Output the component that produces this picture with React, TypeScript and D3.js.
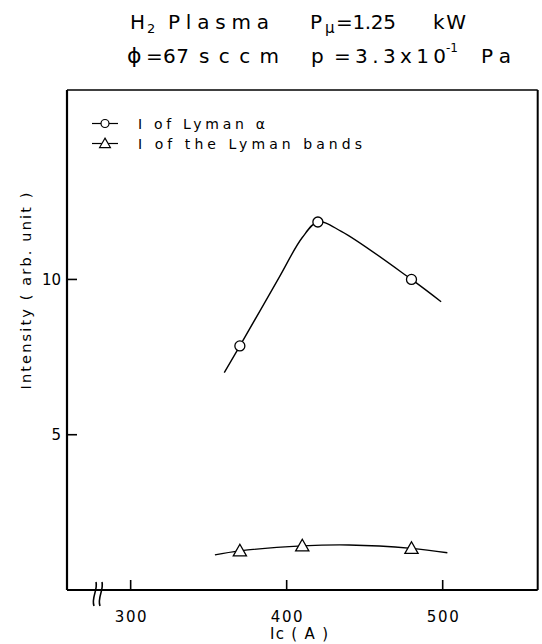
import React from "react";
import * as d3 from "d3";

const xTicks = [300, 400, 500];
const yTicks = [5, 10];

// I of Lyman alpha : measured points
const alphaX = [370, 420, 480];
const alphaY = [7.86, 11.85, 10.0];
// hand-drawn fit curve
const alphaFitX = [360, 370, 395, 410, 420, 435, 480, 499];
const alphaFitY = [7.0, 7.86, 10.05, 11.35, 11.85, 11.55, 10.0, 9.28];

// I of the Lyman bands : measured points
const bandsX = [370, 410, 480];
const bandsY = [1.26, 1.42, 1.34];
const bandsFitX = [354, 370, 410, 440, 480, 503];
const bandsFitY = [1.13, 1.26, 1.42, 1.45, 1.34, 1.2];

const W = 542;
const H = 644;
const L = 67, R = 537.7, T = 90, B = 590;

export default function App() {
  const x = d3.scaleLinear().domain([259.2, 560.9]).range([L, R]);
  const y = d3.scaleLinear().domain([0, 16.1]).range([B, T]);
  const line = d3
    .line<[number, number]>()
    .x((d) => x(d[0]))
    .y((d) => y(d[1]))
    .curve(d3.curveCatmullRom.alpha(0.5));
  const alphaPath = line(alphaFitX.map((v, i) => [v, alphaFitY[i]]) as [number, number][]) || "";
  const bandsPath = line(bandsFitX.map((v, i) => [v, bandsFitY[i]]) as [number, number][]) || "";
  const font = "'DejaVu Sans', Verdana, sans-serif";
  const tri = (cx: number, cy: number, s: number) =>
    `M${cx},${cy - s * 0.6}L${cx + s * 0.6},${cy + s * 0.45}L${cx - s * 0.6},${cy + s * 0.45}Z`;

  return (
    <svg
      width={W}
      height={H}
      style={{ position: "absolute", left: 0, top: 0, background: "#fff" }}
      fontFamily={font}
      fill="#000"
    >
      <rect x={0} y={0} width={W} height={H} fill="#fff" />
      {/* Title */}
      <g fontSize={20}>
        <text x={130} y={29}>H</text>
        <text x={147} y={33} fontSize={13}>2</text>
        <text x={168} y={29} textLength={101} lengthAdjust="spacing">Plasma</text>
        <text x={310} y={29}>P</text>
        <text x={325} y={33} fontSize={15}>μ</text>
        <text x={336} y={29} textLength={60} lengthAdjust="spacing">=1.25</text>
        <text x={433} y={29} textLength={33} lengthAdjust="spacing">kW</text>

        <text x={127} y={63} fontSize={22}>ϕ</text>
        <text x={146} y={63}>=</text>
        <text x={163} y={63} textLength={26} lengthAdjust="spacing">67</text>
        <text x={199} y={63} textLength={80} lengthAdjust="spacing">sccm</text>
        <text x={311} y={63}>p</text>
        <text x={334} y={63} textLength={112} lengthAdjust="spacing">=3.3x10</text>
        <text x={446} y={52} fontSize={12}>-1</text>
        <text x={481} y={63} textLength={30} lengthAdjust="spacing">Pa</text>
      </g>

      {/* Frame */}
      <g stroke="#000" fill="none">
        <line x1={L} y1={T} x2={R} y2={T} strokeWidth={1.5} />
        <line x1={R} y1={T} x2={R} y2={B} strokeWidth={2} />
        <line x1={L} y1={T} x2={L} y2={B} strokeWidth={2.2} />
        <line x1={L} y1={B} x2={R} y2={B} strokeWidth={2} />
      </g>

      {/* Axis break marks */}
      <g stroke="#000" fill="none" strokeWidth={1.6}>
        <path d={`M${94},${606} C${91},${598} ${98},${590} ${96},${582}`} />
        <path d={`M${100},${606} C${97},${598} ${104},${590} ${102},${582}`} />
      </g>

      {/* X ticks */}
      {xTicks.map((t) => (
        <g key={t}>
          <line x1={x(t)} x2={x(t)} y1={B} y2={B - 10} stroke="#000" strokeWidth={1.6} />
          <text
            x={x(t)}
            y={622}
            fontSize={15}
            textAnchor="middle"
            textLength={32}
            lengthAdjust="spacing"
          >
            {t}
          </text>
        </g>
      ))}
      {/* Y ticks */}
      {yTicks.map((t) => (
        <g key={t}>
          <line x1={L} x2={L + 10} y1={y(t)} y2={y(t)} stroke="#000" strokeWidth={1.6} />
          <text x={61} y={y(t) + 5.5} fontSize={15} textAnchor="end">
            {t}
          </text>
        </g>
      ))}

      {/* Axis labels */}
      <text x={299} y={639} fontSize={15} textAnchor="middle" textLength={58} lengthAdjust="spacing">
        Ic ( A )
      </text>
      <text
        transform={`translate(31,291) rotate(-90)`}
        fontSize={14.5}
        textAnchor="middle"
        textLength={197}
        lengthAdjust="spacing"
      >
        Intensity ( arb. unit )
      </text>

      {/* Legend */}
      <g stroke="#000" strokeWidth={1.2} fill="none">
        <line x1={92} x2={118} y1={123.5} y2={123.5} />
        <circle cx={105} cy={123.5} r={4} fill="#fff" />
        <line x1={92} x2={118} y1={143.5} y2={143.5} />
        <path d={tri(105, 143.5, 9)} fill="#fff" />
      </g>
      <text x={138} y={128.5} fontSize={14} textLength={127} lengthAdjust="spacing">
        I of Lyman α
      </text>
      <text x={138} y={148.5} fontSize={14} textLength={224} lengthAdjust="spacing">
        I of the Lyman bands
      </text>

      {/* Curves */}
      <path d={alphaPath} fill="none" stroke="#000" strokeWidth={1.4} />
      <path d={bandsPath} fill="none" stroke="#000" strokeWidth={1.4} />

      {alphaX.map((v, i) => (
        <circle key={v} cx={x(v)} cy={y(alphaY[i])} r={5} fill="#fff" stroke="#000" strokeWidth={1.3} />
      ))}
      {bandsX.map((v, i) => (
        <path key={v} d={tri(x(v), y(bandsY[i]), 11)} fill="#fff" stroke="#000" strokeWidth={1.3} />
      ))}
    </svg>
  );
}
